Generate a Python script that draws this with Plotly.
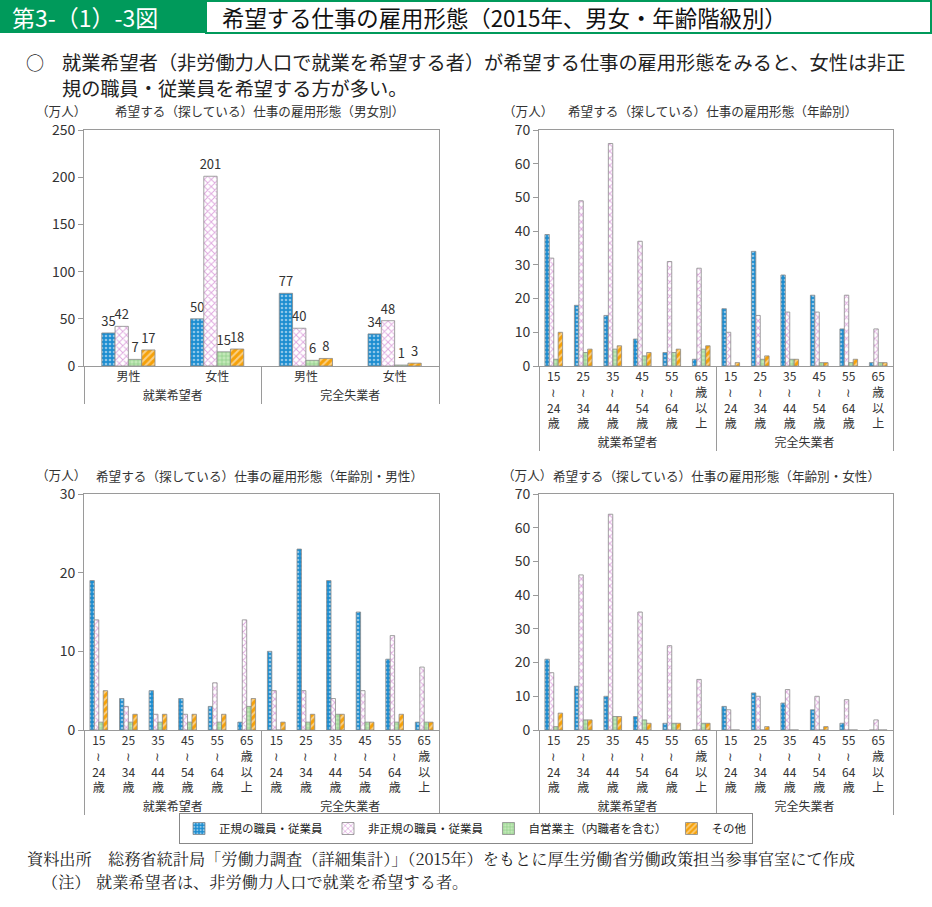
import plotly.graph_objects as go

W, H = 932, 907
FONT = "Noto Sans CJK JP"

# ---------------- data ----------------
series_names = ["正規の職員・従業員", "非正規の職員・従業員", "自営業主（内職者を含む）", "その他"]
groups = ["就業希望者", "完全失業者"]
sexes = ["男性", "女性"]
ages = ["15<br>≀<br>24<br>歳", "25<br>≀<br>34<br>歳", "35<br>≀<br>44<br>歳",
        "45<br>≀<br>54<br>歳", "55<br>≀<br>64<br>歳", "65<br>歳<br>以<br>上"]

# panel 1: by sex (就業希望者 男性, 女性, 完全失業者 男性, 女性)
sex_regular = [35, 50, 77, 34]
sex_nonregular = [42, 201, 40, 48]
sex_self = [7, 15, 6, 1]
sex_other = [17, 18, 8, 3]

# panel 2: by age (就業希望者 x6, 完全失業者 x6)
age_regular = [39, 18, 15, 8, 4, 2, 17, 34, 27, 21, 11, 1]
age_nonregular = [32, 49, 66, 37, 31, 29, 10, 15, 16, 16, 21, 11]
age_self = [2, 4, 5, 3, 4, 5, 0, 2, 2, 1, 1, 1]
age_other = [10, 5, 6, 4, 5, 6, 1, 3, 2, 1, 2, 1]

# panel 3: by age, male
male_regular = [19, 4, 5, 4, 3, 1, 10, 23, 19, 15, 9, 1]
male_nonregular = [14, 3, 2, 2, 6, 14, 5, 5, 4, 5, 12, 8]
male_self = [1, 1, 1, 1, 1, 3, 0, 1, 2, 1, 1, 1]
male_other = [5, 2, 2, 2, 2, 4, 1, 2, 2, 1, 2, 1]

# panel 4: by age, female
female_regular = [21, 13, 10, 4, 2, 0, 7, 11, 8, 6, 2, 0]
female_nonregular = [17, 46, 64, 35, 25, 15, 6, 10, 12, 10, 9, 3]
female_self = [1, 3, 4, 3, 2, 2, 0, 0, 0, 0, 0, 0]
female_other = [5, 3, 4, 2, 2, 2, 0, 1, 0, 1, 0, 0]

panel_titles = ["希望する（探している）仕事の雇用形態（男女別）",
                "希望する（探している）仕事の雇用形態（年齢別）",
                "希望する（探している）仕事の雇用形態（年齢別・男性）",
                "希望する（探している）仕事の雇用形態（年齢別・女性）"]
unit_label = "（万人）"

# ---------------- styles ----------------
styles = [
    dict(bg="#1C8DD0", fg="#FFFFFF", shape=".", size=4, sol=0.35),
    dict(bg="#FFFFFF", fg="#BE52BE", shape="x", size=5, sol=0.35),
    dict(bg="#C3E8B8", fg="#4FAF4F", shape="+", size=4, sol=0.3),
    dict(bg="#F5A10A", fg="#FFFFFF", shape="/", size=5, sol=0.4),
]

def px_x(p):
    return p / W

def px_y(p):
    return 1 - p / H

sex_x = [[g for g in groups for _ in sexes], [s for _ in groups for s in sexes]]
age_x = [[g for g in groups for _ in ages], [a for _ in groups for a in ages]]

panels = [
    dict(x=sex_x, data=[sex_regular, sex_nonregular, sex_self, sex_other], rng=[0, 250], dtick=50,
         dom_x=(84, 439), dom_y=(130, 366), labels=True),
    dict(x=age_x, data=[age_regular, age_nonregular, age_self, age_other], rng=[0, 70], dtick=10,
         dom_x=(539, 893), dom_y=(130, 366), labels=False),
    dict(x=age_x, data=[male_regular, male_nonregular, male_self, male_other], rng=[0, 30], dtick=10,
         dom_x=(84, 439), dom_y=(494, 730), labels=False),
    dict(x=age_x, data=[female_regular, female_nonregular, female_self, female_other], rng=[0, 70], dtick=10,
         dom_x=(539, 893), dom_y=(494, 730), labels=False),
]

fig = go.Figure()
layout_axes = {}
for i, p in enumerate(panels):
    n = "" if i == 0 else str(i + 1)
    for k, vals in enumerate(p["data"]):
        st = styles[k]
        fig.add_trace(go.Bar(
            x=p["x"], y=vals, name=series_names[k],
            xaxis="x" + n, yaxis="y" + n,
            showlegend=(i == 0), legendgroup=series_names[k],
            marker=dict(color=st["bg"],
                        line=dict(color="#8A8A8A", width=0.8),
                        pattern=dict(shape=st["shape"], fgcolor=st["fg"], bgcolor=st["bg"],
                                     size=st["size"], solidity=st["sol"], fillmode="overlay")),
            text=vals if p["labels"] else None,
            textposition="outside" if p["labels"] else None,
            textfont=dict(size=13, color="#333333", family=FONT),
            constraintext="none", cliponaxis=False,
            hoverinfo="y+name",
        ))
    layout_axes["xaxis" + n] = dict(
        domain=[px_x(p["dom_x"][0]), px_x(p["dom_x"][1])], anchor="y" + n,
        type="multicategory", showline=True, linecolor="#9A9A9A", linewidth=1, mirror=True,
        ticks="", showgrid=False, showdividers=True, dividercolor="#9A9A9A", dividerwidth=1,
        tickfont=dict(size=12, color="#333333", family=FONT), automargin=False,
    )
    layout_axes["yaxis" + n] = dict(
        domain=[px_y(p["dom_y"][1]), px_y(p["dom_y"][0])], anchor="x" + n,
        range=p["rng"], dtick=p["dtick"], tick0=0, showgrid=False, zeroline=False,
        showline=True, linecolor="#9A9A9A", linewidth=1, mirror=True,
        ticks="outside", ticklen=5, tickcolor="#9A9A9A", automargin=False,
        tickfont=dict(size=14, color="#333333", family=FONT),
    )

ann = []
def add_text(x, y, text, size, color="#222222", anchor="left", family=FONT):
    ann.append(dict(xref="paper", yref="paper", x=px_x(x), y=px_y(y), text=text,
                    showarrow=False, xanchor=anchor, yanchor="middle",
                    font=dict(size=size, color=color, family=family)))

# panel headings
head_pos = [(34, 111, 113), (501, 111, 566), (34, 475, 94), (500, 475, 551)]
for (ux, uy, tx), t in zip(head_pos, panel_titles):
    add_text(ux, uy - 1, unit_label, 12.6, "#333333")
    add_text(tx, uy, t, 12.6, "#333333")

# main header
add_text(10, 17, "第3-（1）-3図", 23, "#FFFFFF")
add_text(220, 17, "希望する仕事の雇用形態（2015年、男女・年齢階級別）", 22.4, "#111111")
add_text(24, 62, "○", 18, "#222222")
add_text(60, 62, "就業希望者（非労働力人口で就業を希望する者）が希望する仕事の雇用形態をみると、女性は非正", 19.2, "#222222")
add_text(60, 88, "規の職員・従業員を希望する方が多い。", 19.2, "#222222")

# footnotes
SERIF = "Noto Serif CJK JP, Noto Sans CJK JP, serif"
add_text(25, 858, "資料出所", 16.2, "#222222", family=SERIF)
add_text(106, 858, "総務省統計局「労働力調査（詳細集計）」（2015年）をもとに厚生労働省労働政策担当参事官室にて作成", 16.2, "#222222", family=SERIF)
add_text(40, 881, "（注）", 16.2, "#222222", family=SERIF)
add_text(94, 881, "就業希望者は、非労働力人口で就業を希望する者。", 16.2, "#222222", family=SERIF)

shapes = [
    dict(type="rect", xref="paper", yref="paper", x0=0, x1=px_x(206), y0=px_y(33), y1=1,
         fillcolor="#009A5B", line=dict(width=0), layer="below"),
    dict(type="rect", xref="paper", yref="paper", x0=px_x(206), x1=px_x(931), y0=px_y(33), y1=px_y(1),
         fillcolor="#FFFFFF", line=dict(color="#009A5B", width=2), layer="below"),
]

fig.update_layout(
    width=W, height=H, autosize=False,
    margin=dict(l=0, r=0, t=0, b=0, autoexpand=False),
    paper_bgcolor="white", plot_bgcolor="white",
    font=dict(family=FONT, size=12, color="#333333"),
    barmode="group", bargap=0.4, bargroupgap=0,
    showlegend=True,
    legend=dict(orientation="h", x=0.5, xanchor="center", y=px_y(813), yanchor="top",
                bordercolor="#888888", borderwidth=1, bgcolor="white",
                font=dict(size=11.5, color="#222222", family=FONT),
                itemwidth=30, tracegroupgap=0),
    annotations=ann, shapes=shapes,
    **layout_axes,
)

fig.write_html("out.html", config={"displayModeBar": False},
               post_script="document.body.style.margin='0';document.body.style.overflow='hidden';")
